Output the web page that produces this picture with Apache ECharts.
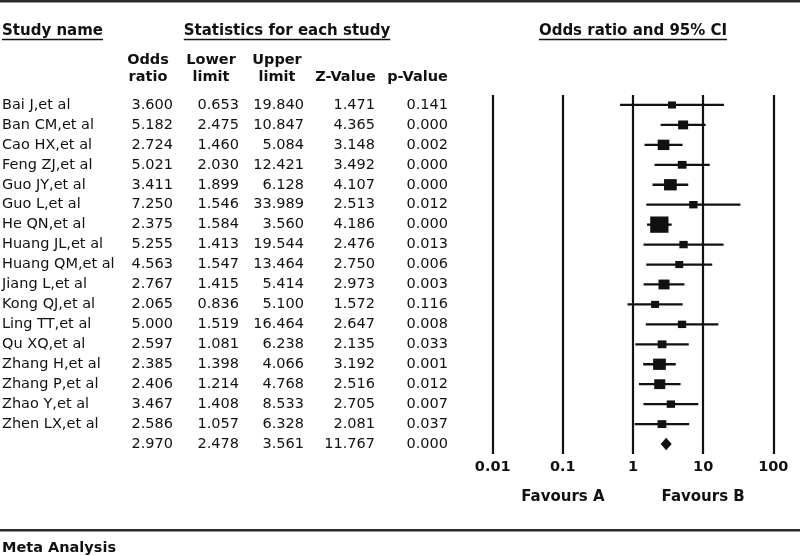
<!DOCTYPE html>
<html>
<head>
<meta charset="utf-8">
<script src="https://cdn.jsdelivr.net/npm/echarts@6/dist/echarts.min.js"></script>
<style>
  html, body { margin: 0; padding: 0; background: #fff; }
  #chart { width: 800px; height: 556px; }
</style>
</head>
<body>
<div id="chart"></div>
<script>
// ---------------- data ----------------
const studyNames = ['Bai J,et al','Ban CM,et al','Cao HX,et al','Feng ZJ,et al','Guo JY,et al','Guo L,et al','He QN,et al','Huang JL,et al','Huang QM,et al','Jiang L,et al','Kong QJ,et al','Ling TT,et al','Qu XQ,et al','Zhang H,et al','Zhang P,et al','Zhao Y,et al','Zhen LX,et al'];
const oddsRatio  = [3.600, 5.182, 2.724, 5.021, 3.411, 7.250, 2.375, 5.255, 4.563, 2.767, 2.065, 5.000, 2.597, 2.385, 2.406, 3.467, 2.586];
const lowerLimit = [0.653, 2.475, 1.460, 2.030, 1.899, 1.546, 1.584, 1.413, 1.547, 1.415, 0.836, 1.519, 1.081, 1.398, 1.214, 1.408, 1.057];
const upperLimit = [19.840, 10.847, 5.084, 12.421, 6.128, 33.989, 3.560, 19.544, 13.464, 5.414, 5.100, 16.464, 6.238, 4.066, 4.768, 8.533, 6.328];
const zValue     = [1.471, 4.365, 3.148, 3.492, 4.107, 2.513, 4.186, 2.476, 2.750, 2.973, 1.572, 2.647, 2.135, 3.192, 2.516, 2.705, 2.081];
const pValue     = [0.141, 0.000, 0.002, 0.000, 0.000, 0.012, 0.000, 0.013, 0.006, 0.003, 0.116, 0.008, 0.033, 0.001, 0.012, 0.007, 0.037];
// relative weight (%)
const relWeight  = [3.4, 5.3, 7.3, 4.1, 8.6, 3.7, 17.9, 3.7, 3.4, 6.5, 3.4, 3.7, 4.1, 8.6, 6.5, 3.7, 4.1];
// pooled: odds ratio, lower, upper, Z, p
const summaryStats = [2.970, 2.478, 3.561, 11.767, 0.000];
const axisTickLabels = ['0.01', '0.1', '1', '10', '100'];
const axisTickValues = [0.01, 0.1, 1, 10, 100];
const favourLabels = ['Favours A', 'Favours B'];
const favourAt = [0.1, 10];
const columnHeaders = [['Odds', 'ratio'], ['Lower', 'limit'], ['Upper', 'limit'], ['', 'Z-Value'], ['', 'p-Value']];

// ---------------- layout / style ----------------
const FONT = '"DejaVu Sans", "Liberation Sans", Arial, sans-serif';
const INK = '#111111';
const rowFont = '14.5px ' + FONT;
const boldFont = 'bold 14.5px ' + FONT;
const colRight = [173, 239, 304, 375, 448];
const headerCenters = [148, 211, 277, 345.5, 417.5];

const rowKeys = studyNames.concat(['Combined']);

function fmt(v) { return v.toFixed(3); }

const tableData = [];
for (let i = 0; i < studyNames.length; i++) {
  tableData.push([i, oddsRatio[i], lowerLimit[i], upperLimit[i], zValue[i], pValue[i]]);
}
tableData.push([studyNames.length].concat(summaryStats));

const forestData = [];
for (let i = 0; i < studyNames.length; i++) {
  forestData.push([i, oddsRatio[i], lowerLimit[i], upperLimit[i], relWeight[i]]);
}
const summaryData = [[studyNames.length, summaryStats[0], summaryStats[1], summaryStats[2]]];

const measureCtx = document.createElement('canvas').getContext('2d');
function textWidth(text, font) { measureCtx.font = font; return measureCtx.measureText(text).width; }

const chart = echarts.init(document.getElementById('chart'), null, { renderer: 'canvas' });

// header graphics
const headerFont = 'bold 15px ' + FONT;
const graphics = [];
graphics.push({ type: 'rect', shape: { x: 0, y: 0, width: 800, height: 2.5 }, style: { fill: '#2a2a2a' }, silent: true });
graphics.push({ type: 'rect', shape: { x: 0, y: 529, width: 800, height: 2.5 }, style: { fill: '#2a2a2a' }, silent: true });
function underlinedTitle(text, cx, anchor) {
  const w = textWidth(text, headerFont);
  const x0 = anchor === 'left' ? cx : cx - w / 2;
  graphics.push({ type: 'text', x: x0, y: 31, style: { text: text, font: headerFont, fill: INK, textAlign: 'left', textVerticalAlign: 'middle' } });
  graphics.push({ type: 'line', shape: { x1: x0, y1: 39.5, x2: x0 + w, y2: 39.5 }, style: { stroke: INK, lineWidth: 1.5 } });
}
underlinedTitle('Study name', 2, 'left');
underlinedTitle('Statistics for each study', 287, 'center');
underlinedTitle('Odds ratio and 95% CI', 633, 'center');
columnHeaders.forEach(function (pair, k) {
  if (pair[0]) graphics.push({ type: 'text', x: headerCenters[k], y: 60, style: { text: pair[0], font: boldFont, fill: INK, textAlign: 'center', textVerticalAlign: 'middle' } });
  graphics.push({ type: 'text', x: headerCenters[k], y: 77, style: { text: pair[1], font: boldFont, fill: INK, textAlign: 'center', textVerticalAlign: 'middle' } });
});
graphics.push({ type: 'text', x: 2, y: 548, style: { text: 'Meta Analysis', font: boldFont, fill: INK, textAlign: 'left', textVerticalAlign: 'middle' } });

const option = {
  animation: false,
  backgroundColor: '#fff',
  graphic: graphics,
  grid: { left: 492.7, right: 26.7, top: 95, height: 359 },
  xAxis: {
    type: 'log', logBase: 10, min: 0.01, max: 100,
    axisLine: { show: false }, axisTick: { show: false },
    splitLine: { show: true, lineStyle: { color: INK, width: 2.2 } },
    axisLabel: {
      margin: 6, fontWeight: 'bold', fontSize: 14.5, fontFamily: FONT, color: INK,
      formatter: function (v) {
        for (let k = 0; k < axisTickValues.length; k++) {
          if (Math.abs(Math.log10(v) - Math.log10(axisTickValues[k])) < 1e-6) return axisTickLabels[k];
        }
        return '';
      }
    }
  },
  yAxis: { type: 'category', data: rowKeys, inverse: true, show: false },
  series: [
    {
      type: 'custom', name: 'table', data: tableData, encode: { x: 1, y: 0 }, clip: false, silent: true,
      renderItem: function (params, api) {
        const idx = api.value(0);
        const y = api.coord([1, idx])[1];
        const children = [];
        const name = idx < studyNames.length ? studyNames[idx] : '';
        if (name) children.push({ type: 'text', style: { x: 2, y: y, text: name, font: rowFont, fill: INK, textAlign: 'left', textVerticalAlign: 'middle' } });
        for (let c = 0; c < 5; c++) {
          children.push({ type: 'text', style: { x: colRight[c], y: y, text: fmt(api.value(c + 1)), font: rowFont, fill: INK, textAlign: 'right', textVerticalAlign: 'middle' } });
        }
        return { type: 'group', children: children };
      }
    },
    {
      type: 'custom', name: 'studies', data: forestData, encode: { x: 1, y: 0 }, clip: false, silent: true,
      renderItem: function (params, api) {
        const idx = api.value(0);
        const c = api.coord([api.value(1), idx]);
        const lo = api.coord([api.value(2), idx]);
        const hi = api.coord([api.value(3), idx]);
        const w = Math.sqrt(api.value(4)) * 4.33;
        const h = w * 0.89;
        return { type: 'group', children: [
          { type: 'line', shape: { x1: lo[0], y1: c[1], x2: hi[0], y2: c[1] }, style: { stroke: INK, lineWidth: 2.3 } },
          { type: 'rect', shape: { x: c[0] - w / 2, y: c[1] - h / 2, width: w, height: h }, style: { fill: INK } }
        ] };
      }
    },
    {
      type: 'custom', name: 'summary', data: summaryData, encode: { x: 1, y: 0 }, clip: false, silent: true,
      renderItem: function (params, api) {
        const idx = api.value(0);
        const c = api.coord([api.value(1), idx]);
        const lo = api.coord([api.value(2), idx]);
        const hi = api.coord([api.value(3), idx]);
        const hh = 6.2;
        return { type: 'polygon', shape: { points: [[lo[0], c[1]], [c[0], c[1] - hh], [hi[0], c[1]], [c[0], c[1] + hh]] }, style: { fill: INK } };
      }
    },
    {
      type: 'custom', name: 'favours', data: favourAt.map(function (v, k) { return [k, v]; }), encode: { x: 1, y: 0 }, clip: false, silent: true,
      renderItem: function (params, api) {
        const x = api.coord([api.value(1), 0])[0];
        return { type: 'text', style: { x: x, y: 497, text: favourLabels[params.dataIndex], font: headerFont, fill: INK, textAlign: 'center', textVerticalAlign: 'middle' } };
      }
    }
  ]
};
chart.setOption(option);
</script>
</body>
</html>
